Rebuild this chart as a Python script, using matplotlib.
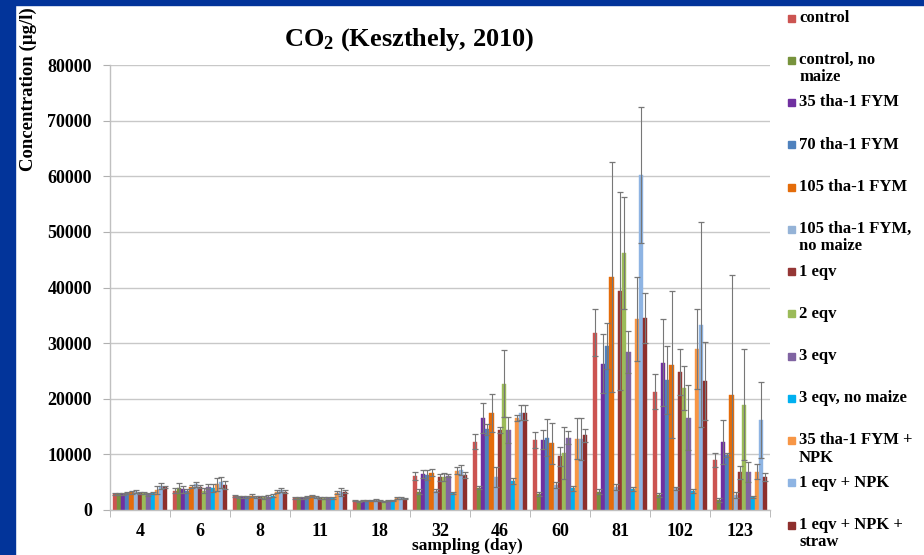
import numpy as np
import matplotlib
matplotlib.use("Agg")
import matplotlib.pyplot as plt
from matplotlib.patches import Rectangle

plt.rcParams['font.family'] = ['Liberation Serif', 'DejaVu Serif']
plt.rcParams['font.weight'] = 'bold'
plt.rcParams['mathtext.fontset'] = 'custom'
plt.rcParams['mathtext.bf'] = 'Liberation Serif:bold'
plt.rcParams['mathtext.rm'] = 'Liberation Serif:bold'
plt.rcParams['mathtext.default'] = 'bf'

# sampling days
days = ['4', '6', '8', '11', '18', '32', '46', '60', '81', '102', '123']

labels = ['control', 'control, no\nmaize', '35 tha-1 FYM', '70 tha-1 FYM',
          '105 tha-1 FYM', '105 tha-1 FYM,\nno maize', '1 eqv', '2 eqv', '3 eqv',
          '3 eqv, no maize', '35 tha-1 FYM +\nNPK', '1 eqv + NPK',
          '1 eqv + NPK +\nstraw']
colors = ['#CC5451', '#77933C', '#7030A0', '#4F81BD', '#E46C0A', '#95B3D7',
          '#953735', '#9BBB59', '#8064A2', '#00B0F0', '#F79646', '#8EB4E3',
          '#8E2F2D']

# CO2 concentration (ug/l), one list per treatment
control        = [2900, 3500, 2500, 2200, 1700, 6100, 12300, 12600, 31900, 21300, 9000]
control_nm     = [2900, 3900, 2300, 2100, 1600, 3300, 4000, 2900, 3300, 2700, 1800]
fym35          = [2900, 3700, 2400, 2200, 1700, 6500, 16600, 12600, 26300, 26500, 12200]
fym70          = [3000, 3400, 2400, 2300, 1700, 6300, 14500, 13000, 29500, 23400, 9900]
fym105         = [3200, 4200, 2600, 2500, 1700, 6700, 17400, 12000, 41900, 26100, 20600]
fym105_nm      = [3300, 4600, 2400, 2300, 1800, 3500, 6000, 4500, 4100, 3900, 2700]
eqv1           = [3000, 4200, 2300, 2200, 1700, 5900, 14400, 9700, 39300, 24800, 6800]
eqv2           = [3000, 3500, 2300, 2200, 1600, 5900, 22700, 10200, 46200, 21900, 18900]
eqv3           = [2800, 4200, 2400, 2200, 1700, 6200, 14400, 13000, 28400, 16600, 6800]
eqv3_nm        = [3100, 3900, 2600, 2200, 1700, 3000, 5200, 3900, 3800, 3400, 2300]
fym35_npk      = [3600, 4600, 3300, 3100, 2100, 7100, 16500, 12800, 34300, 28900, 6900]
eqv1_npk       = [4300, 5000, 3600, 3300, 2100, 7200, 17500, 12700, 60200, 33300, 16200]
eqv1_npk_straw = [4200, 4500, 3300, 3300, 2000, 6300, 17500, 13400, 34600, 23200, 5900]

# standard deviations
control_sd        = [200, 500, 200, 200, 100, 700, 1300, 1500, 4300, 3200, 1300]
control_nm_sd     = [200, 900, 200, 200, 100, 500, 300, 300, 400, 400, 300]
fym35_sd          = [200, 600, 200, 200, 100, 700, 2700, 1700, 5300, 7800, 4000]
fym70_sd          = [200, 400, 200, 200, 100, 900, 1000, 3300, 4100, 6100, 300]
fym105_sd         = [300, 300, 200, 200, 100, 600, 3400, 3700, 20700, 13200, 21700]
fym105_nm_sd      = [300, 500, 200, 200, 100, 200, 1800, 500, 500, 300, 500]
eqv1_sd           = [200, 300, 200, 200, 100, 600, 500, 1700, 17800, 4100, 1200]
eqv2_sd           = [200, 400, 300, 200, 100, 700, 6000, 4700, 10000, 3900, 10000]
eqv3_sd           = [200, 500, 300, 200, 100, 300, 2300, 1200, 3700, 5900, 1800]
eqv3_nm_sd        = [200, 700, 300, 200, 100, 200, 600, 400, 300, 300, 200]
fym35_npk_sd      = [700, 1200, 300, 300, 200, 700, 500, 3700, 7500, 7200, 1300]
eqv1_npk_sd       = [500, 1000, 400, 700, 200, 900, 1300, 3800, 12200, 18400, 6800]
eqv1_npk_straw_sd = [200, 800, 300, 300, 100, 600, 1300, 1200, 4500, 7000, 700]

series = [control, control_nm, fym35, fym70, fym105, fym105_nm, eqv1, eqv2,
          eqv3, eqv3_nm, fym35_npk, eqv1_npk, eqv1_npk_straw]
errors = [control_sd, control_nm_sd, fym35_sd, fym70_sd, fym105_sd, fym105_nm_sd,
          eqv1_sd, eqv2_sd, eqv3_sd, eqv3_nm_sd, fym35_npk_sd, eqv1_npk_sd,
          eqv1_npk_straw_sd]

W, H = 924, 555
fig = plt.figure(figsize=(W / 100, H / 100), dpi=100)
fig.patch.set_facecolor('white')

# blue slide frame
fig.patches.append(Rectangle((0, 0), 15 / W, 1, transform=fig.transFigure,
                             color='#02349A', zorder=0))
fig.patches.append(Rectangle((0, 1 - 5 / H), 1, 5 / H, transform=fig.transFigure,
                             color='#02349A', zorder=0))

ax = fig.add_axes([110 / W, 1 - 510 / H, 660 / W, 445 / H])

n = len(series)
bw = 0.0705
x = np.arange(len(days))
for i, (vals, err) in enumerate(zip(series, errors)):
    pos = x + (i - (n - 1) / 2) * bw
    ax.bar(pos, vals, width=bw, color=colors[i], edgecolor=colors[i],
           linewidth=0.3, zorder=2)
    ax.errorbar(pos, vals, yerr=err, fmt='none', ecolor='#777777',
                elinewidth=0.8, capsize=2, capthick=0.9, zorder=3)

ax.set_xlim(-0.5, len(days) - 0.5)
ax.set_ylim(0, 80000)
ax.set_yticks(np.arange(0, 80001, 10000))
ax.yaxis.grid(True, color='#C8C8C8', linewidth=1, zorder=0)
ax.set_axisbelow(True)

ax.set_xticks(x)
ax.set_xticklabels(days, fontsize=13, fontweight='bold')
ax.set_xticks(np.arange(-0.5, len(days), 1), minor=True)
ax.tick_params(axis='x', which='major', length=0, pad=9)
ax.tick_params(axis='x', which='minor', length=5, color='#B0B0B0')
ax.tick_params(axis='y', length=5, color='#B0B0B0', labelsize=13, pad=8)
for lab in ax.get_yticklabels():
    lab.set_fontweight('bold')

for s in ['top', 'right']:
    ax.spines[s].set_visible(False)
for s in ['left', 'bottom']:
    ax.spines[s].set_color('#C0C0C0')
    ax.spines[s].set_linewidth(1)

fig.text(409 / W, 1 - 40 / H, 'CO$_2$ (Keszthely, 2010)', fontsize=19,
         fontweight='bold', ha='center', va='center')
fig.text(28 / W, 1 - 89 / H, 'Concentration (µg/l)', fontsize=13.5,
         fontweight='bold', rotation=90, ha='center', va='center')
fig.text(467 / W, 1 - 546 / H, 'sampling (day)', fontsize=12.5,
         fontweight='bold', ha='center', va='center')

# legend on the right
for i, lab in enumerate(labels):
    yc = 18 + 42.25 * i
    fig.patches.append(Rectangle((788 / W, 1 - (yc + 3.5) / H), 7 / W, 7 / H,
                                 transform=fig.transFigure, color=colors[i]))
    fig.text(799 / W, 1 - (yc - 8) / H, lab, fontsize=12, fontweight='bold',
             ha='left', va='top', multialignment='left', linespacing=1.1)

fig.savefig('out.png', dpi=100)
